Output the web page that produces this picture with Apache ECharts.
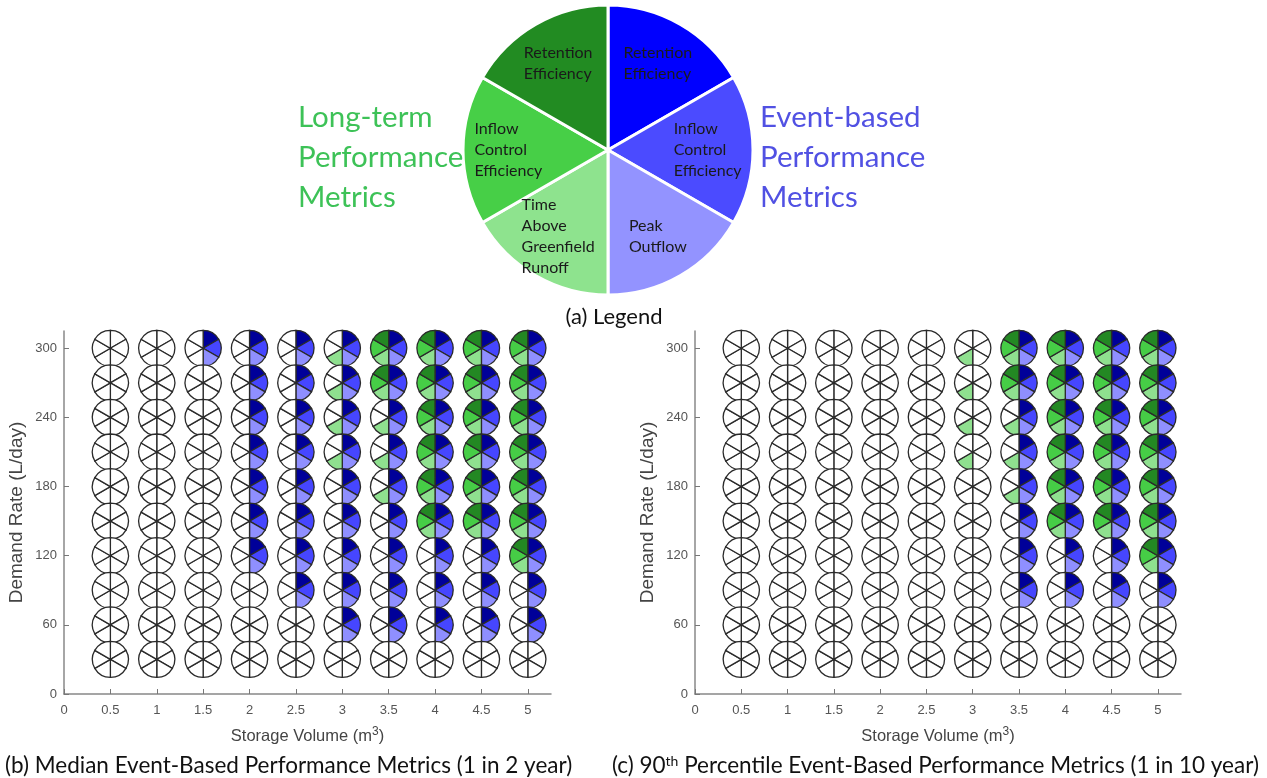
<!DOCTYPE html>
<html>
<head>
<meta charset="utf-8">
<script src="https://cdn.jsdelivr.net/npm/echarts@6/dist/echarts.min.js"></script>
<style>
  html, body { margin: 0; background: #fff; }
  #chart { width: 1267px; height: 778px; }
</style>
</head>
<body>
<div id="chart"></div>
<script>
const storageVolumes = [0.5, 1, 1.5, 2, 2.5, 3, 3.5, 4, 4.5, 5];
const demandRates = [300, 270, 240, 210, 180, 150, 120, 90, 60, 30];
const xTicks = [0, 0.5, 1, 1.5, 2, 2.5, 3, 3.5, 4, 4.5, 5];
const yTicks = [0, 60, 120, 180, 240, 300];

// slices clockwise from 12 o'clock: 3 event-based, then 3 long-term
const metricNames = [
  'Retention\nEfficiency', 'Inflow\nControl\nEfficiency', 'Peak\nOutflow',
  'Time\nAbove\nGreenfield\nRunoff', 'Inflow\nControl\nEfficiency', 'Retention\nEfficiency'
];
const legendColors = ['#0000ff', '#4b4bff', '#9393ff', '#8ee38e', '#47cf47', '#228b22'];
const glyphColors = ['#000099', '#4646ff', '#8f8fff', '#8fe08f', '#46cd46', '#238823'];

// metrics met per cell: '-' none, 'E' event-based three, 'T' time above greenfield,
// 'ET' both of those, 'A' all six
const patterns = {
  '-': [0, 0, 0, 0, 0, 0],
  E: [1, 1, 1, 0, 0, 0],
  T: [0, 0, 0, 1, 0, 0],
  ET: [1, 1, 1, 1, 0, 0],
  A: [1, 1, 1, 1, 1, 1]
};

// rows follow demandRates, columns follow storageVolumes
const medianRows = [
  ['-', '-', 'E', 'E', 'E', 'ET', 'A', 'A', 'A', 'A'],
  ['-', '-', '-', 'E', 'E', 'ET', 'A', 'A', 'A', 'A'],
  ['-', '-', '-', 'E', 'E', 'ET', 'ET', 'A', 'A', 'A'],
  ['-', '-', '-', 'E', 'E', 'ET', 'ET', 'A', 'A', 'A'],
  ['-', '-', '-', 'E', 'E', 'E', 'ET', 'A', 'A', 'A'],
  ['-', '-', '-', 'E', 'E', 'E', 'E', 'A', 'A', 'A'],
  ['-', '-', '-', 'E', 'E', 'E', 'E', 'E', 'E', 'A'],
  ['-', '-', '-', '-', 'E', 'E', 'E', 'E', 'E', 'E'],
  ['-', '-', '-', '-', '-', 'E', 'E', 'E', 'E', 'E'],
  ['-', '-', '-', '-', '-', '-', '-', '-', '-', '-']
];
const p90Rows = [
  ['-', '-', '-', '-', '-', 'T', 'A', 'A', 'A', 'A'],
  ['-', '-', '-', '-', '-', 'T', 'A', 'A', 'A', 'A'],
  ['-', '-', '-', '-', '-', 'T', 'ET', 'A', 'A', 'A'],
  ['-', '-', '-', '-', '-', 'T', 'ET', 'A', 'A', 'A'],
  ['-', '-', '-', '-', '-', '-', 'ET', 'A', 'A', 'A'],
  ['-', '-', '-', '-', '-', '-', 'E', 'A', 'A', 'A'],
  ['-', '-', '-', '-', '-', '-', 'E', 'E', 'E', 'A'],
  ['-', '-', '-', '-', '-', '-', 'E', 'E', 'E', 'E'],
  ['-', '-', '-', '-', '-', '-', '-', '-', '-', '-'],
  ['-', '-', '-', '-', '-', '-', '-', '-', '-', '-']
];

function toGlyphData(rows) {
  const out = [];
  rows.forEach((row, i) => {
    row.forEach((code, j) => {
      out.push([storageVolumes[j], demandRates[i]].concat(patterns[code]));
    });
  });
  return out;
}

const GLYPH_R = 18;
function renderGlyph(params, api) {
  const c = api.coord([api.value(0), api.value(1)]);
  const children = [];
  for (let k = 0; k < 6; k++) {
    const a0 = -Math.PI / 2 + k * Math.PI / 3;
    children.push({
      type: 'sector',
      shape: { cx: c[0], cy: c[1], r0: 0, r: GLYPH_R, startAngle: a0, endAngle: a0 + Math.PI / 3, clockwise: true },
      style: { fill: api.value(2 + k) ? glyphColors[k] : '#fff', stroke: '#2a2a2a', lineWidth: 1.3 }
    });
  }
  return { type: 'group', children: children };
}

const axisFont = 'Liberation Sans';
const capFont = 'Lato';

function makeXAxis(gridIndex) {
  return {
    type: 'value', gridIndex: gridIndex, min: 0, max: 5.25,
    name: 'Storage Volume (m{sup|3})',
    nameLocation: 'middle', nameGap: 32,
    nameTextStyle: {
      color: '#444', fontSize: 16.5, fontFamily: axisFont,
      rich: { sup: { fontSize: 12, color: '#444', fontFamily: axisFont, verticalAlign: 'top', padding: [0, 0, 8, 0] } }
    },
    axisLine: { lineStyle: { color: '#888', width: 1.5 } },
    axisTick: { inside: true, length: 5, customValues: xTicks, lineStyle: { color: '#777' } },
    axisLabel: { customValues: xTicks, color: '#555', fontSize: 13, fontFamily: axisFont, margin: 10 },
    splitLine: { show: false }
  };
}
function makeYAxis(gridIndex) {
  return {
    type: 'value', gridIndex: gridIndex, min: 0, max: 315,
    name: 'Demand Rate (L/day)',
    nameLocation: 'middle', nameGap: 38, nameRotate: 90,
    nameTextStyle: { color: '#444', fontSize: 19, fontFamily: axisFont },
    axisLine: { show: true, lineStyle: { color: '#888', width: 1.5 } },
    axisTick: { show: true, inside: true, length: 5, customValues: yTicks, lineStyle: { color: '#777' } },
    axisLabel: { customValues: yTicks, color: '#555', fontSize: 13, fontFamily: axisFont, margin: 7 },
    splitLine: { show: false }
  };
}

const PIE_CX = 608, PIE_CY = 150, PIE_R = 145;

const chart = echarts.init(document.getElementById('chart'), null, { renderer: 'canvas' });
chart.setOption({
  animation: false,
  backgroundColor: '#fff',
  title: [
    {
      text: 'Long-term\nPerformance\nMetrics', left: 298, top: 97, padding: 0,
      textStyle: { color: '#3dc257', fontSize: 29.5, fontWeight: 'normal', fontFamily: capFont, lineHeight: 40 }
    },
    {
      text: 'Event-based\nPerformance\nMetrics', left: 760, top: 97, padding: 0,
      textStyle: { color: '#5151e3', fontSize: 29.5, fontWeight: 'normal', fontFamily: capFont, lineHeight: 40 }
    },
    {
      text: '(a) Legend', left: 614, top: 306, textAlign: 'center', padding: 0,
      textStyle: { color: '#111', fontSize: 22, fontWeight: 'normal', fontFamily: capFont }
    },
    {
      text: '(b) Median Event-Based Performance Metrics (1 in 2 year)', left: 5, top: 754, padding: 0,
      textStyle: { color: '#111', fontSize: 22.5, fontWeight: 'normal', fontFamily: capFont }
    },
    {
      text: '(c) 90{sup|th} Percentile Event-Based Performance Metrics (1 in 10 year)', left: 612, top: 754, padding: 0,
      textStyle: {
        color: '#111', fontSize: 22.5, fontWeight: 'normal', fontFamily: capFont,
        rich: { sup: { fontSize: 14, color: '#111', fontFamily: capFont, verticalAlign: 'top', padding: [0, 0, 9, 0] } }
      }
    }
  ],
  grid: [
    { left: 64, top: 331, width: 487, height: 363 },
    { left: 695, top: 331, width: 486, height: 363 }
  ],
  xAxis: [makeXAxis(0), makeXAxis(1)],
  yAxis: [makeYAxis(0), makeYAxis(1)],
  series: [
    {
      type: 'pie', silent: true,
      center: [PIE_CX, PIE_CY], radius: [0, PIE_R],
      startAngle: 90, clockwise: true,
      itemStyle: { borderColor: '#fff', borderWidth: 3 },
      label: {
        show: true, position: 'inside', formatter: '{b}',
        color: '#1a1a1a', fontSize: 16, lineHeight: 21, fontFamily: capFont
      },
      labelLine: { show: false },
      labelLayout: function (p) {
        const r = p.labelRect;
        const lx = r.x + r.width / 2, ly = r.y + r.height / 2;
        return {
          dx: (lx - PIE_CX) * 0.32 - r.width / 2,
          dy: (ly - PIE_CY) * 0.32,
          align: 'left'
        };
      },
      data: metricNames.map((n, i) => ({ name: n, value: 1, itemStyle: { color: legendColors[i] } }))
    },
    {
      type: 'custom', xAxisIndex: 0, yAxisIndex: 0, clip: false, silent: true,
      renderItem: renderGlyph, data: toGlyphData(medianRows)
    },
    {
      type: 'custom', xAxisIndex: 1, yAxisIndex: 1, clip: false, silent: true,
      renderItem: renderGlyph, data: toGlyphData(p90Rows)
    }
  ]
});
</script>
</body>
</html>
